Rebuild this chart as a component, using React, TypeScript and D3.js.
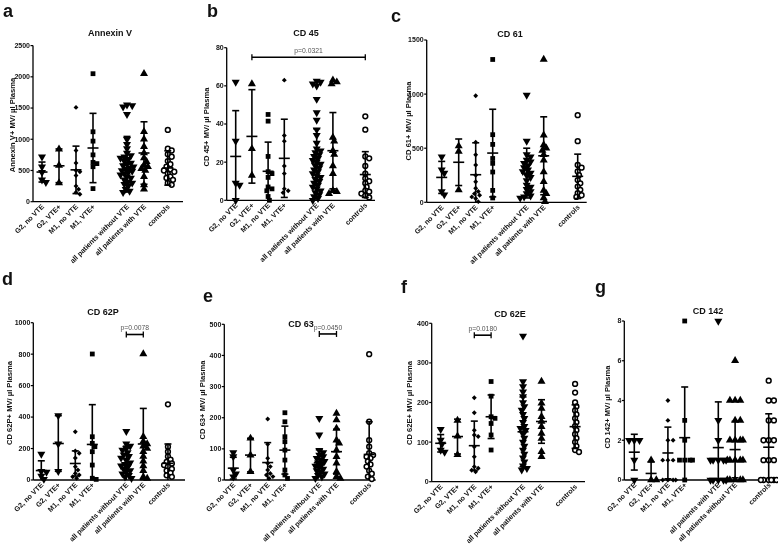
import * as d3 from 'd3'

// group names (panel g swaps the two "all patients" groups)
const categories = ['G2, no VTE', 'G2, VTE+', 'M1, no VTE', 'M1, VTE+', 'all patients without VTE', 'all patients with VTE', 'controls']
const categoriesG = ['G2, no VTE', 'G2, VTE+', 'M1, no VTE', 'M1, VTE+', 'all patients with VTE', 'all patients without VTE', 'controls']

// a - Annexin V
const annexinPoints = [
  [720, 560, 470, 350, 310],
  [840, 580, 300],
  [1510, 820, 620, 500, 480, 420, 250, 200, 150, 120],
  [2050, 1120, 970, 750, 630, 610, 560, 210],
  [1550, 1540, 1520, 1400, 1000, 920, 850, 780, 740, 720, 700, 680, 650, 620, 600, 580, 560, 540, 520, 500, 490, 470, 450, 430, 400, 380, 350, 320, 300, 280, 250, 200, 170, 150],
  [2050, 1120, 1000, 880, 780, 700, 640, 590, 560, 530, 500, 400, 270, 200],
  [1150, 850, 820, 760, 720, 650, 600, 560, 520, 500, 480, 450, 400, 380, 350, 300, 270],
]
const annexinMean = [475, 575, 510, 860, 600, 780, 540]
const annexinSD = [160, 270, 380, 555, 445, 500, 275]

// b - CD 45
const cd45Points = [
  [62, 31, 9, 8, 0],
  [61, 27, 13],
  [45, 41.5, 23, 15, 14, 12, 7, 6, 5, 2, 0],
  [63, 34, 31, 18, 14, 6, 5, 4],
  [62.5, 62, 61, 60, 53, 46, 42, 37, 34, 30, 27, 26, 25, 24, 23, 22, 21, 20, 19, 18, 17, 16, 15, 14, 13, 12, 11, 10, 9, 8, 7, 6, 5, 4, 3, 2, 1, 0],
  [63, 62, 61, 33, 31, 26, 24, 18, 14, 5, 4.5, 3.5],
  [44, 37, 23, 22, 18, 14, 11.5, 10, 9, 7, 5, 4.5, 3.5, 2.5, 1.5],
]
const cd45Mean = [23, 33.5, 15.2, 22, 19.5, 26, 13.5]
const cd45SD = [24, 24.5, 15.3, 20.5, 18, 20, 12]

// c - CD 61
const cd61Points = [
  [420, 300, 270, 100, 70],
  [520, 470, 115],
  [985, 555, 440, 345, 250, 190, 130, 100, 80, 65, 50, 35, 6],
  [1320, 625, 535, 405, 360, 280, 110, 40],
  [990, 565, 440, 420, 390, 375, 360, 340, 320, 300, 285, 270, 250, 230, 200, 160, 140, 120, 100, 80, 60, 50, 40],
  [1320, 620, 530, 500, 480, 440, 390, 280, 190, 110, 80, 40, 5],
  [805, 565, 345, 320, 285, 250, 205, 175, 145, 115, 85, 65, 50],
]
const cd61Mean = [230, 370, 255, 455, 270, 430, 240]
const cd61SD = [148, 215, 295, 405, 230, 360, 205]

// d - CD 62P
const cd62pPoints = [
  [165, 55, 50, 25, 5],
  [410, 230, 55],
  [307, 184, 170, 140, 85, 64, 42, 32, 21, 11],
  [801, 275, 233, 212, 180, 95, 11, 4],
  [310, 230, 215, 200, 190, 175, 160, 150, 140, 125, 110, 100, 90, 80, 70, 60, 50, 40, 30, 20, 10],
  [801, 275, 245, 230, 215, 200, 180, 150, 120, 90, 60, 20, 10],
  [481, 212, 180, 150, 130, 115, 105, 95, 85, 70, 60, 45, 30, 20],
]
const cd62pMean = [60, 232, 105, 226, 100, 229, 106]
const cd62pSD = [62, 177, 80, 253, 115, 226, 123]

// e - CD 63
const cd63Points = [
  [88, 75, 32, 20, 10],
  [134, 80, 27],
  [196, 115, 70, 54, 43, 32, 21, 16, 11, 5],
  [216, 187, 139, 123, 96, 64, 32, 16, 5],
  [198, 145, 95, 88, 80, 75, 70, 65, 60, 55, 50, 45, 40, 35, 30, 25, 20, 15, 10, 5],
  [214, 193, 166, 128, 118, 96, 75, 54, 27, 11, 5],
  [404, 187, 128, 107, 86, 80, 75, 70, 60, 50, 43, 30, 20, 11, 3],
]
const cd63Mean = [38, 80, 56, 96, 55, 91, 82]
const cd63SD = [35, 54, 64, 77, 42, 72, 105]

// f - CD 62E
const cd62ePoints = [
  [132, 105, 95, 80, 75],
  [155, 115, 68],
  [212, 174, 130, 118, 114, 88, 63, 38, 34, 29, 25],
  [253, 216, 164, 160, 147, 118, 80],
  [368, 253, 240, 227, 215, 200, 190, 181, 170, 160, 150, 140, 135, 130, 120, 110, 100, 90, 80, 70, 60, 50, 40, 34, 30],
  [253, 198, 185, 164, 152, 139, 122, 109, 76, 63],
  [247, 225, 200, 190, 180, 170, 160, 150, 140, 130, 120, 110, 100, 90, 80, 75],
]
const cd62eMean = [97, 114, 91, 164, 126, 152, 139]
const cd62eSD = [22, 44, 62, 55, 88, 55, 55]

// g - CD 142
const cd142Points = [
  [2, 2, 2, 1, 0],
  [1, 0, 0],
  [4, 3, 2, 2, 1, 1, 1, 0, 0, 0, 0],
  [8, 3, 2, 1, 1, 1, 1, 0],
  [8, 3, 2, 1, 1, 1, 1, 1, 0, 0, 0, 0, 0],
  [6, 4, 4, 4, 3, 3, 2, 2, 2, 2, 1, 1, 1, 1, 1, 0, 0, 0, 0, 0],
  [5, 4, 4, 3, 3, 2, 2, 2, 1, 1, 1, 0, 0, 0, 0, 0, 0],
]
const cd142Mean = [1.4, 0.33, 1.36, 2.13, 1.63, 1.53, 1.65]
const cd142SD = [0.9, 0.58, 1.3, 2.55, 2.3, 1.42, 1.68]

const FONT = 'Liberation Sans, Arial, Helvetica, sans-serif'
const std = ['down', 'up', 'diamond', 'square', 'down', 'up', 'circle']

// layout of each small chart
const panels = [
  { letter: 'a', lx: 3, ly: 17, title: 'Annexin V', tx: 110, ty: 36, ylabel: 'Annexin V+ MV/ µl Plasma', ylx: 12, yly: 125,
    x0: 33, x1: 183, yTop: 45.6, yBot: 201.7, max: 2500, step: 500, off: 9, unit: 17, slots: [0, 1, 2, 3, 5, 6, 7.4],
    cats: categories, pts: annexinPoints, mean: annexinMean, sd: annexinSD, shapes: std },
  { letter: 'b', lx: 207, ly: 17, title: 'CD 45', tx: 306, ty: 36, ylabel: 'CD 45+ MV/ µl Plasma', ylx: 206, yly: 127,
    x0: 226.7, x1: 375, yTop: 47.7, yBot: 200.3, max: 80, step: 20, off: 9, unit: 16.2, slots: [0, 1, 2, 3, 5, 6, 8],
    cats: categories, pts: cd45Points, mean: cd45Mean, sd: cd45SD, shapes: ['down', 'up', 'square', 'diamond', 'down', 'up', 'circle'],
    bracket: { from: 1, to: 6, value: 75, label: 'p=0.0321' } },
  { letter: 'c', lx: 391, ly: 22, title: 'CD 61', tx: 510, ty: 37, ylabel: 'CD 61+ MV/ µl Plasma', ylx: 408.5, yly: 121,
    x0: 426.7, x1: 586.7, yTop: 40, yBot: 202.3, max: 1500, step: 500, off: 15, unit: 17, slots: [0, 1, 2, 3, 5, 6, 8],
    cats: categories, pts: cd61Points, mean: cd61Mean, sd: cd61SD, shapes: std },
  { letter: 'd', lx: 2, ly: 285, title: 'CD 62P', tx: 103, ty: 315, ylabel: 'CD 62P+ MV/ µl Plasma', ylx: 9, yly: 403,
    x0: 33.3, x1: 185, yTop: 322.7, yBot: 480, max: 1000, step: 200, off: 8, unit: 17, slots: [0, 1, 2, 3, 5, 6, 7.45],
    cats: categories, pts: cd62pPoints, mean: cd62pMean, sd: cd62pSD, shapes: ['down', 'down', 'diamond', 'square', 'down', 'up', 'circle'],
    bracket: { from: 4, to: 5, value: 925, label: 'p=0.0078' } },
  { letter: 'e', lx: 203, ly: 302, title: 'CD 63', tx: 301, ty: 327, ylabel: 'CD 63+ MV/ µl Plasma', ylx: 202, yly: 400,
    x0: 224.3, x1: 375.7, yTop: 324.3, yBot: 480, max: 500, step: 100, off: 9, unit: 17.2, slots: [0, 1, 2, 3, 5, 6, 7.9],
    cats: categories, pts: cd63Points, mean: cd63Mean, sd: cd63SD, shapes: std,
    bracket: { from: 4, to: 5, value: 469, label: 'p=0.0450' } },
  { letter: 'f', lx: 401, ly: 293, title: 'CD 62E', tx: 510, ty: 317, ylabel: 'CD 62E+ MV/ µl Plasma', ylx: 409, yly: 403,
    x0: 431.7, x1: 585, yTop: 323.3, yBot: 481.7, max: 400, step: 100, off: 9, unit: 16.8, slots: [0, 1, 2, 3, 4.9, 6, 8],
    cats: categories, pts: cd62ePoints, mean: cd62eMean, sd: cd62eSD, shapes: std,
    bracket: { from: 2, to: 3, value: 370, label: 'p=0.0180' } },
  { letter: 'g', lx: 595, ly: 293, title: 'CD 142', tx: 708, ty: 314, ylabel: 'CD 142+ MV/ µl Plasma', ylx: 607, yly: 407,
    x0: 624.3, x1: 776, yTop: 321, yBot: 480, max: 8, step: 2, off: 10, unit: 16.8, slots: [0, 1, 2, 3, 5, 6, 8],
    cats: categoriesG, pts: cd142Points, mean: cd142Mean, sd: cd142SD, shapes: std },
]

// spread points sideways so they do not sit on top of each other (like a prism scatter)
function swarm(ys: number[], minD: number, step: number, maxOff: number) {
  const order = d3.range(ys.length).sort((i, j) => ys[i] - ys[j])
  const placed: { x: number, y: number }[] = []
  const out = new Array(ys.length).fill(0)
  const cands = [0]
  for (let k = 1; k * step <= maxOff; k++) cands.push(k * step, -k * step)
  for (const i of order) {
    let best = 0, bestD = -1
    for (const c of cands) {
      let md = Infinity
      for (const p of placed) md = Math.min(md, Math.hypot(p.x - c, p.y - ys[i]))
      if (md >= minD) { best = c; break }
      if (md > bestD) { bestD = md; best = c }
    }
    out[i] = best
    placed.push({ x: best, y: ys[i] })
  }
  return out
}

const triPath = d3.symbol(d3.symbolTriangle, 28)() as string
const sqPath = d3.symbol(d3.symbolSquare, 23)() as string
const diaPath = d3.symbol(d3.symbolSquare, 12)() as string

function Marker({ shape, x, y }: { shape: string, x: number, y: number }) {
  if (shape === 'circle') return <circle cx={x} cy={y} r={2.4} fill="white" stroke="black" strokeWidth={1.5} />
  if (shape === 'up') return <path d={triPath} transform={`translate(${x},${y})`} fill="black" />
  if (shape === 'down') return <path d={triPath} transform={`translate(${x},${y}) rotate(180)`} fill="black" />
  if (shape === 'square') return <path d={sqPath} transform={`translate(${x},${y})`} fill="black" />
  return <path d={diaPath} transform={`translate(${x},${y}) rotate(45)`} fill="black" />
}

function Panel({ p }: { p: any }) {
  const y = d3.scaleLinear().domain([0, p.max]).range([p.yBot, p.yTop])
  const x = d3.scaleLinear().domain([0, 1]).range([p.x0 + p.off, p.x0 + p.off + p.unit])
  const ticks = d3.range(0, p.max + p.step / 2, p.step)
  const yc = (v: number) => y(Math.max(0, Math.min(p.max, v)))

  return (
    <g fontFamily={FONT} fill="#111">
      <text x={p.lx} y={p.ly} fontSize={18} fontWeight="bold">{p.letter}</text>
      <text x={p.tx} y={p.ty} fontSize={9} fontWeight="bold" textAnchor="middle">{p.title}</text>
      <text transform={`translate(${p.ylx + 2.5},${p.yly}) rotate(-90)`} fontSize={7.6} fontWeight="bold" textAnchor="middle">{p.ylabel}</text>

      {/* y axis */}
      <line x1={p.x0} x2={p.x0} y1={y(0)} y2={y(p.max)} stroke="black" strokeWidth={1.3} />
      {ticks.map((t: number) => (
        <g key={t}>
          <line x1={p.x0 - 2.5} x2={p.x0} y1={y(t)} y2={y(t)} stroke="black" strokeWidth={1.2} />
          <text x={p.x0 - 3} y={y(t) + 2.4} fontSize={7} fontWeight="bold" textAnchor="end">{t}</text>
        </g>
      ))}
      {/* x axis */}
      <line x1={p.x0} x2={p.x1} y1={y(0)} y2={y(0)} stroke="black" strokeWidth={1.3} />

      {p.cats.map((c: string, i: number) => {
        const cx = x(p.slots[i])
        const vals: number[] = p.pts[i]
        const ys = vals.map(v => y(v))
        const offs = swarm(ys, 4, 1.3, 8)
        const m = p.mean[i], s = p.sd[i]
        return (
          <g key={c}>
            <text transform={`translate(${cx + 2.5},${y(0) + 5.5}) rotate(-45)`} fontSize={7.1} fontWeight="bold" textAnchor="end">{c}</text>
            {vals.map((v, k) => <Marker key={k} shape={p.shapes[i]} x={cx + offs[k]} y={ys[k]} />)}
            <line x1={cx} x2={cx} y1={yc(m - s)} y2={yc(m + s)} stroke="black" strokeWidth={1.6} />
            <line x1={cx - 3.5} x2={cx + 3.5} y1={yc(m + s)} y2={yc(m + s)} stroke="black" strokeWidth={1.6} />
            {m - s > 0 && <line x1={cx - 3.5} x2={cx + 3.5} y1={yc(m - s)} y2={yc(m - s)} stroke="black" strokeWidth={1.6} />}
            <line x1={cx - 5.5} x2={cx + 5.5} y1={y(m)} y2={y(m)} stroke="black" strokeWidth={1.6} />
          </g>
        )
      })}

      {p.bracket && (() => {
        const b = p.bracket
        const xa = x(p.slots[b.from]), xb = x(p.slots[b.to]), by = y(b.value)
        return (
          <g>
            <line x1={xa} x2={xb} y1={by} y2={by} stroke="black" strokeWidth={1.6} />
            <line x1={xa} x2={xa} y1={by - 3} y2={by + 3} stroke="black" strokeWidth={1.3} />
            <line x1={xb} x2={xb} y1={by - 3} y2={by + 3} stroke="black" strokeWidth={1.3} />
            <text x={(xa + xb) / 2} y={by - 4} fontSize={6.8} fill="#555" textAnchor="middle">{b.label}</text>
          </g>
        )
      })()}
    </g>
  )
}

export default function App() {
  return (
    <svg width={778} height={551} style={{ position: 'absolute', left: 0, top: 0, background: 'white', willChange: 'transform' }}>
      <rect width={778} height={551} fill="white" />
      {panels.map(p => <Panel key={p.letter} p={p} />)}
    </svg>
  )
}
